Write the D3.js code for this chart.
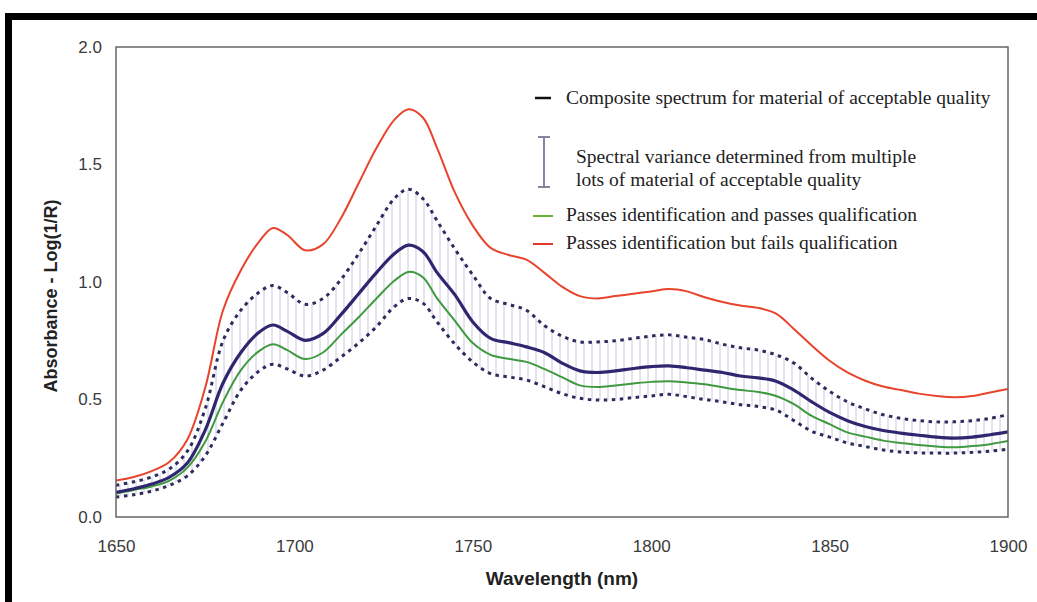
<!DOCTYPE html>
<html><head><meta charset="utf-8">
<script src="https://cdn.jsdelivr.net/npm/d3@7"></script>
<style>
html,body{margin:0;padding:0;background:#fff;}
svg{display:block;}
</style></head>
<body>
<svg id="chart" width="1037" height="602"></svg>
<script>
const wavelengths = [1650,1655,1660,1665,1670,1675,1680,1685,1690,1694,1698,1703,1708,1713,1718,1723,1728,1732,1736,1740,1745,1750,1755,1760,1765,1770,1775,1780,1785,1790,1795,1800,1805,1810,1815,1820,1825,1830,1835,1840,1845,1850,1855,1860,1865,1870,1875,1880,1885,1890,1895,1900];
const failsQual = [0.155,0.17,0.195,0.235,0.33,0.55,0.88,1.05,1.17,1.23,1.20,1.135,1.16,1.27,1.42,1.57,1.69,1.735,1.70,1.57,1.38,1.24,1.145,1.115,1.095,1.04,0.98,0.94,0.93,0.94,0.95,0.96,0.97,0.96,0.935,0.915,0.90,0.89,0.865,0.80,0.73,0.665,0.615,0.58,0.555,0.54,0.525,0.515,0.51,0.515,0.53,0.545];
const upperLimit = [0.135,0.15,0.17,0.205,0.28,0.46,0.75,0.88,0.955,0.985,0.955,0.905,0.93,1.01,1.12,1.24,1.355,1.395,1.355,1.26,1.14,1.03,0.93,0.905,0.88,0.815,0.77,0.745,0.745,0.75,0.76,0.77,0.775,0.765,0.755,0.735,0.72,0.71,0.69,0.655,0.59,0.535,0.49,0.46,0.435,0.42,0.41,0.405,0.405,0.41,0.42,0.435];
const composite = [0.105,0.12,0.14,0.17,0.23,0.37,0.57,0.70,0.785,0.817,0.79,0.752,0.78,0.86,0.95,1.04,1.12,1.157,1.13,1.04,0.945,0.83,0.76,0.742,0.724,0.70,0.655,0.622,0.615,0.622,0.632,0.64,0.643,0.635,0.625,0.615,0.60,0.592,0.578,0.54,0.49,0.445,0.41,0.385,0.368,0.357,0.348,0.34,0.336,0.34,0.35,0.362];
const passesQual = [0.10,0.115,0.13,0.155,0.21,0.32,0.49,0.625,0.705,0.735,0.71,0.672,0.70,0.775,0.85,0.93,1.005,1.043,1.02,0.93,0.835,0.74,0.69,0.673,0.66,0.63,0.595,0.56,0.553,0.56,0.568,0.575,0.578,0.572,0.565,0.552,0.54,0.532,0.515,0.48,0.43,0.395,0.36,0.342,0.325,0.315,0.306,0.30,0.297,0.302,0.31,0.323];
const lowerLimit = [0.085,0.095,0.11,0.135,0.175,0.26,0.40,0.54,0.62,0.65,0.63,0.60,0.625,0.68,0.74,0.81,0.895,0.93,0.91,0.83,0.735,0.66,0.61,0.596,0.583,0.555,0.525,0.505,0.498,0.50,0.508,0.515,0.522,0.512,0.50,0.49,0.478,0.47,0.455,0.41,0.365,0.34,0.315,0.30,0.285,0.277,0.273,0.272,0.272,0.275,0.28,0.289];
const xTicks = [1650,1700,1750,1800,1850,1900];
const yTicks = [0.0,0.5,1.0,1.5,2.0];
const legendLabels = ["Composite spectrum for material of acceptable quality","Spectral variance determined from multiple","lots of material of acceptable quality","Passes identification and passes qualification","Passes identification but fails qualification"];

const svg = d3.select("#chart");
const L = 116, R = 1008, T = 47, B = 517;
const x = d3.scaleLinear().domain([1650,1900]).range([L,R]);
const y = d3.scaleLinear().domain([0,2]).range([B,T]);

// outer black frame (top and left)
svg.append("rect").attr("x",5).attr("y",13).attr("width",1032).attr("height",7).attr("fill","#000");
svg.append("rect").attr("x",5).attr("y",13).attr("width",7).attr("height",589).attr("fill","#000");

// hatch pattern
const defs = svg.append("defs");
const pat = defs.append("pattern").attr("id","hatch").attr("patternUnits","userSpaceOnUse")
  .attr("x",L).attr("y",0).attr("width",8).attr("height",10);
pat.append("line").attr("x1",4).attr("x2",4).attr("y1",0).attr("y2",10)
  .attr("stroke","#cdc8e2").attr("stroke-width",1);
defs.append("clipPath").attr("id","plotclip").append("rect").attr("x",L).attr("y",T).attr("width",R-L).attr("height",B-T);

const g = svg.append("g").attr("clip-path","url(#plotclip)");
const idx = d3.range(wavelengths.length);
const curve = d3.curveCatmullRom.alpha(0.5);

g.append("path").datum(idx)
  .attr("d", d3.area().x(i=>x(wavelengths[i])).y0(i=>y(lowerLimit[i])).y1(i=>y(upperLimit[i])).curve(curve))
  .attr("fill","url(#hatch)");

const line = arr => d3.line().x(i=>x(wavelengths[i])).y(i=>y(arr[i])).curve(curve);

g.append("path").datum(idx).attr("d", line(failsQual)).attr("fill","none").attr("stroke","#e8432d").attr("stroke-width",2);
g.append("path").datum(idx).attr("d", line(upperLimit)).attr("fill","none").attr("stroke","#2c2d5e").attr("stroke-width",3).attr("stroke-dasharray","3.5,4.5");
g.append("path").datum(idx).attr("d", line(lowerLimit)).attr("fill","none").attr("stroke","#2c2d5e").attr("stroke-width",3).attr("stroke-dasharray","3.5,4.5");
g.append("path").datum(idx).attr("d", line(passesQual)).attr("fill","none").attr("stroke","#3f9a3f").attr("stroke-width",2);
g.append("path").datum(idx).attr("d", line(composite)).attr("fill","none").attr("stroke","#2e2770").attr("stroke-width",3.2);

// frame
svg.append("rect").attr("x",L).attr("y",T).attr("width",R-L).attr("height",B-T)
  .attr("fill","none").attr("stroke","#666").attr("stroke-width",1.5);

// axes (labels only)
const xAxis = d3.axisBottom(x).tickValues(xTicks).tickSize(0).tickPadding(23).tickFormat(d3.format("d"));
const xg = svg.append("g").attr("transform",`translate(0,${B})`).call(xAxis);
xg.select(".domain").remove();
xg.selectAll("text").attr("font-family","Liberation Sans, Arial, sans-serif").attr("font-size",17).attr("fill","#3a3a3a");

const yAxis = d3.axisLeft(y).tickValues(yTicks).tickSize(0).tickPadding(14).tickFormat(d3.format(".1f"));
const yg = svg.append("g").attr("transform",`translate(${L},0)`).call(yAxis);
yg.select(".domain").remove();
yg.selectAll("text").attr("font-family","Liberation Sans, Arial, sans-serif").attr("font-size",17).attr("fill","#3a3a3a");

svg.append("text").attr("x",562).attr("y",585).attr("text-anchor","middle")
  .attr("font-family","Liberation Sans, Arial, sans-serif").attr("font-size",19).attr("font-weight","bold").attr("fill","#222")
  .text("Wavelength (nm)");
svg.append("text").attr("transform",`translate(57,296) rotate(-90)`).attr("text-anchor","middle")
  .attr("font-family","Liberation Sans, Arial, sans-serif").attr("font-size",18).attr("font-weight","bold").attr("fill","#222")
  .text("Absorbance - Log(1/R)");

// legend
const lf = "Liberation Serif, Times New Roman, serif";
const lg = svg.append("g");
lg.append("line").attr("x1",535).attr("x2",551).attr("y1",98).attr("y2",98).attr("stroke","#111").attr("stroke-width",2.5);
lg.append("text").attr("x",566).attr("y",104).text(legendLabels[0]);
lg.append("line").attr("x1",544).attr("x2",544).attr("y1",137).attr("y2",187).attr("stroke","#777b99").attr("stroke-width",1.8);
lg.append("line").attr("x1",538).attr("x2",550).attr("y1",137).attr("y2",137).attr("stroke","#777b99").attr("stroke-width",1.8);
lg.append("line").attr("x1",538).attr("x2",550).attr("y1",187).attr("y2",187).attr("stroke","#777b99").attr("stroke-width",1.8);
lg.append("text").attr("x",576).attr("y",163).text(legendLabels[1]);
lg.append("text").attr("x",576).attr("y",186).text(legendLabels[2]);
lg.append("line").attr("x1",533).attr("x2",553).attr("y1",216).attr("y2",216).attr("stroke","#6bb33a").attr("stroke-width",2);
lg.append("text").attr("x",566).attr("y",221).text(legendLabels[3]);
lg.append("line").attr("x1",533).attr("x2",553).attr("y1",244).attr("y2",244).attr("stroke","#e03a2c").attr("stroke-width",2);
lg.append("text").attr("x",566).attr("y",249).text(legendLabels[4]);
lg.selectAll("text").attr("font-family",lf).attr("font-size",19.5).attr("fill","#222");
</script>
</body></html>
